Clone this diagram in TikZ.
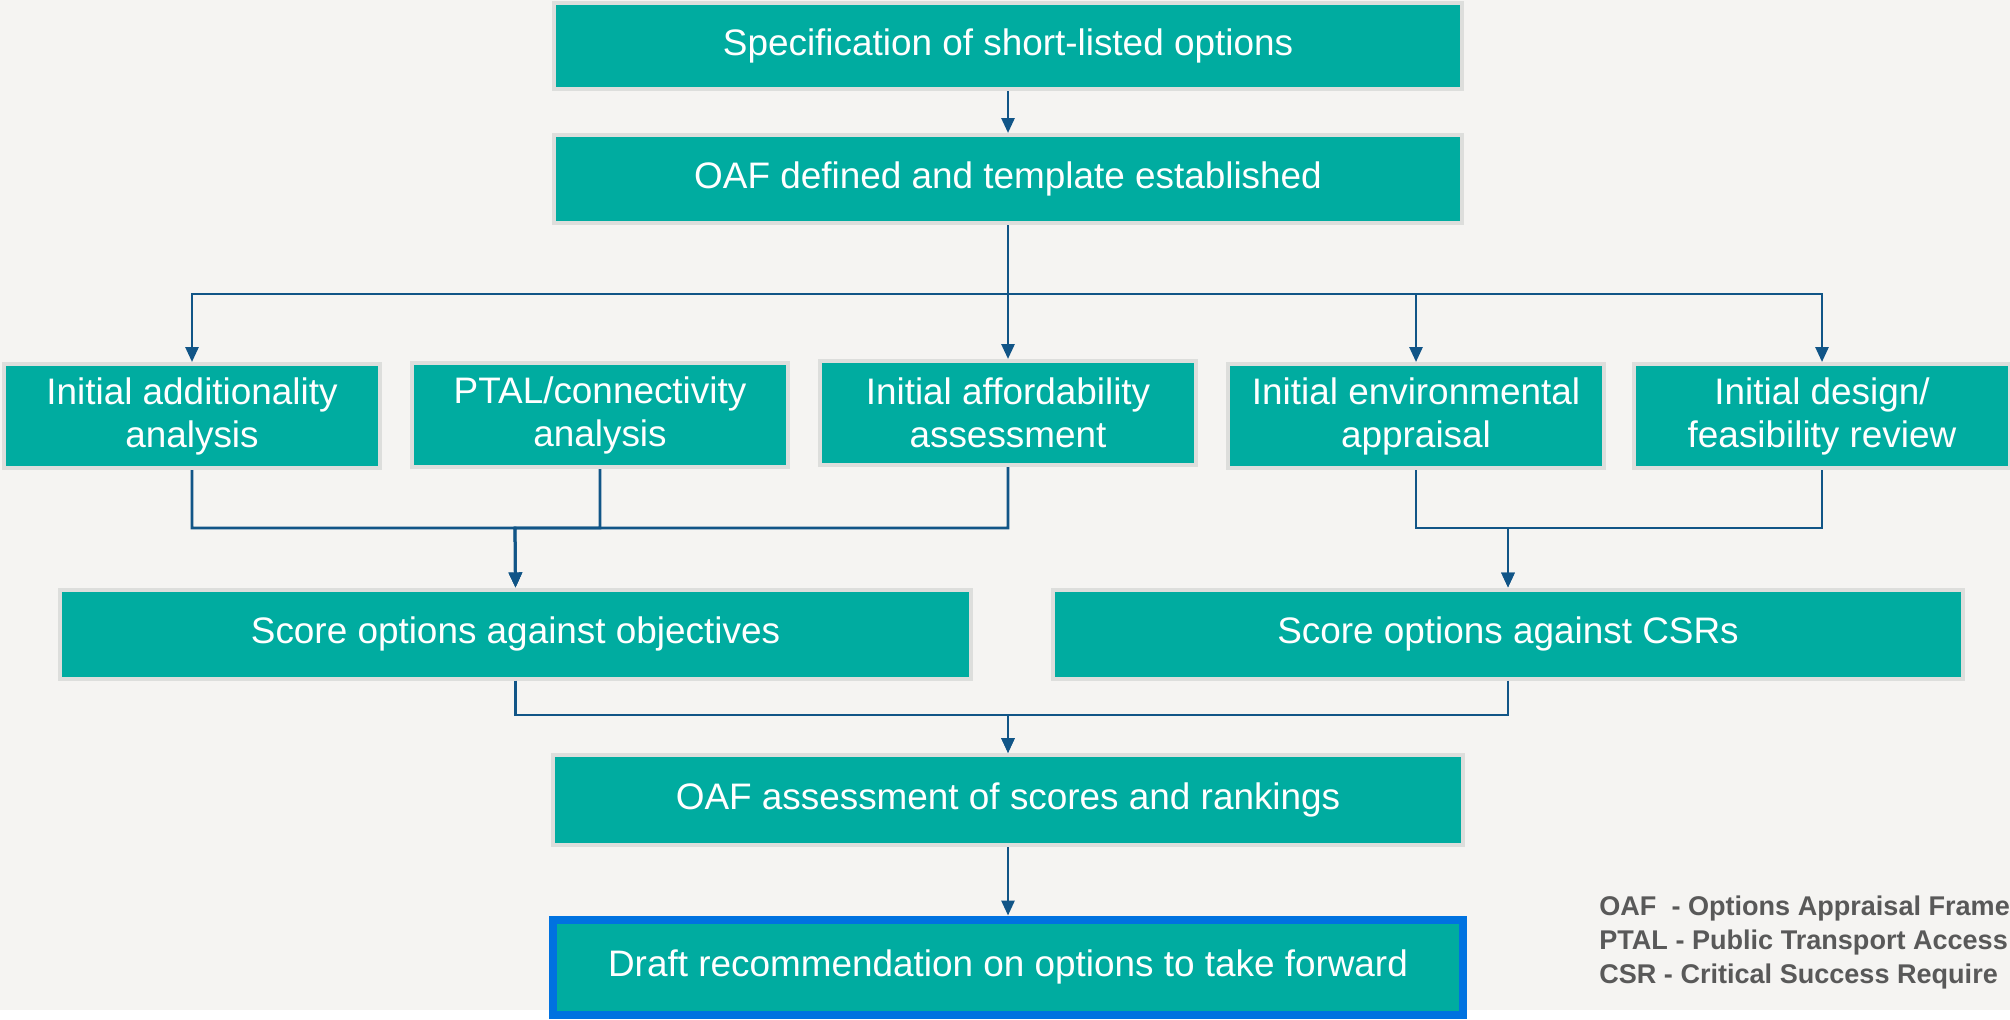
\documentclass[tikz,border=0pt]{standalone}
\usepackage{fontspec}
\setmainfont{Liberation Sans}
\usetikzlibrary{arrows.meta,calc}

\definecolor{oafteal}{RGB}{0,172,160}
\definecolor{oafedge}{RGB}{221,222,220}
\definecolor{oafline}{RGB}{17,85,135}
\definecolor{oafblue}{RGB}{0,114,224}
\definecolor{oafback}{RGB}{245,244,242}
\definecolor{oafnote}{RGB}{89,89,89}

\begin{document}
\begin{tikzpicture}[x=0.02cm, y=-0.02cm,
    stage/.style={fill=oafteal, draw=oafedge, line width=0.08cm, inner sep=0pt,
        text=white, align=center, font=\fontsize{21}{24.5}\selectfont},
    wide/.style={stage, minimum width=18.18cm, minimum height=1.76cm},
    task/.style={stage, minimum width=7.54cm, minimum height=2.08cm},
    flow/.style={draw=oafline, line width=0.055cm, -{Triangle[length=0.3cm, width=0.26cm]}},
    note/.style={anchor=base west, inner sep=0pt, text=oafnote,
        font=\fontsize{15.4}{19}\selectfont\bfseries}]
    \useasboundingbox (0,0) rectangle (2010,1019);
    \fill[oafback] (0,0) rectangle (2010,1010);

    % main column
    \node[wide, minimum height=1.72cm] (spec) at (1008,46) {Specification of short-listed options};
    \node[wide] (oafdef) at (1008,179) {OAF defined and template established};

    % five parallel tasks
    \node[task] (addit) at (192,416) {Initial additionality\\analysis};
    \node[task] (ptal) at (600,415) {PTAL/connectivity\\analysis};
    \node[task] (afford) at (1008,413) {Initial affordability\\assessment};
    \node[task] (envir) at (1416,416) {Initial environmental\\appraisal};
    \node[task] (design) at (1822,416) {Initial design/\\feasibility review};

    \node[wide, minimum width=18.22cm, minimum height=1.78cm] (scoreobj) at (515.5,634) {Score options against objectives};
    \node[wide, minimum width=18.2cm, minimum height=1.78cm] (scorecsr) at (1508,634) {Score options against CSRs};
    \node[wide, minimum width=18.2cm, minimum height=1.8cm] (oafass) at (1008,800) {OAF assessment of scores and rankings};
    \node[stage, draw=oafblue, line width=0.16cm, minimum width=18.2cm, minimum height=1.9cm]
        (draft) at (1008,967) {Draft recommendation on options to take forward};

    \coordinate (topbus) at (1008,294);
    \coordinate (objbus) at (515,528);
    \coordinate (csrbus) at (1508,528);
    \coordinate (endbus) at (1008,715);

    \draw[flow] (spec) -- (oafdef);
    \foreach \t in {addit,afford,envir,design}
        \draw[flow] (oafdef.south) -- (topbus) -| (\t.north);
    \foreach \t in {addit,ptal,afford}
        \draw[flow] (\t.south) |- (objbus) -- (scoreobj.north);
    \foreach \t in {envir,design}
        \draw[flow] (\t.south) |- (csrbus) -- (scorecsr.north);
    \foreach \t in {scoreobj,scorecsr}
        \draw[flow] (\t.south) |- (endbus) -- (oafass.north);
    \draw[flow] (oafass) -- (draft);

    % abbreviations
    \node[note] (leg1) at (1599,915) {OAF\ \ - Options Appraisal Frame};
    \node[note] (leg2) at (1599,949) {PTAL - Public Transport Access};
    \node[note] (leg3) at (1599,983) {CSR - Critical Success Require};
\end{tikzpicture}
\end{document}
